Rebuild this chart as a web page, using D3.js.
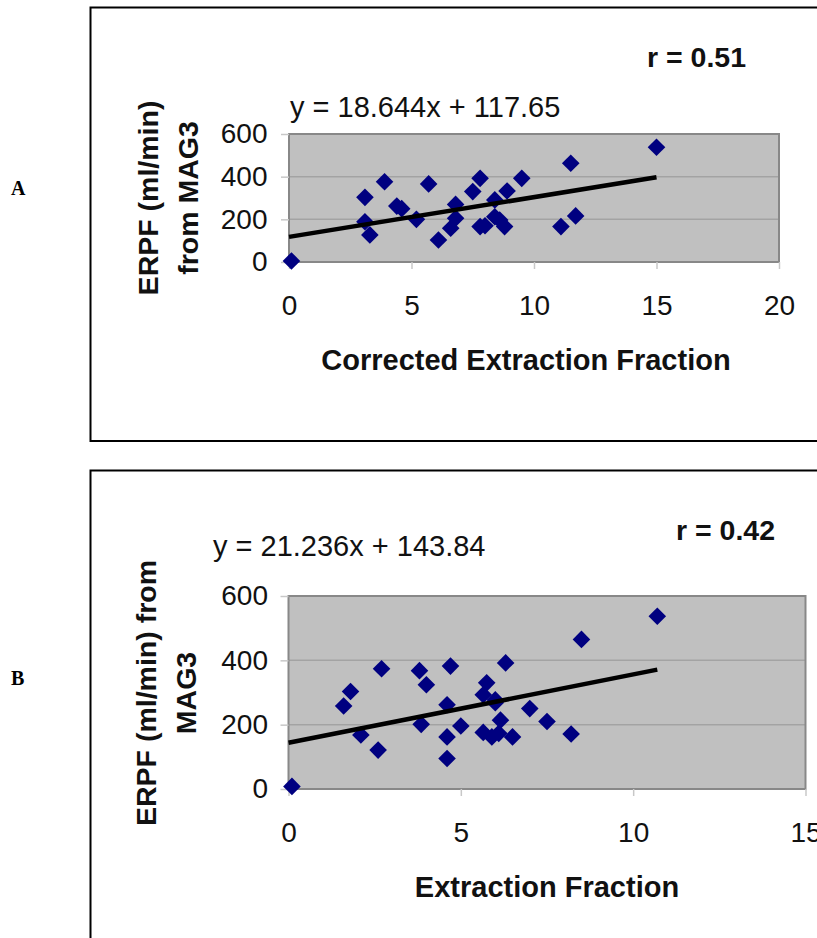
<!DOCTYPE html>
<html>
<head>
<meta charset="utf-8">
<script src="https://cdn.jsdelivr.net/npm/d3@7"></script>
<style>
  html, body { margin: 0; padding: 0; background: #fff; }
  svg { display: block; font-family: "Liberation Sans", Arial, sans-serif; }
</style>
</head>
<body>
<svg id="chart" width="817" height="938"></svg>
<script>
// ---- Panel A data (Corrected Extraction Fraction vs ERPF) ----
const xA = [0.1, 3.1, 3.1, 3.3, 3.9, 4.4, 4.6, 5.2, 5.7, 6.1, 6.6, 6.8, 6.8, 7.5, 7.8, 7.8, 8.0, 8.4, 8.4, 8.6, 8.8, 8.9, 9.5, 11.1, 11.5, 11.7, 15.0];
const yA = [5, 303, 189, 127, 376, 262, 250, 200, 366, 103, 158, 205, 270, 330, 392, 166, 170, 291, 212, 197, 166, 333, 392, 166, 463, 216, 538];
const slopeA = 18.644, interceptA = 117.65;
const xTicksA = [0, 5, 10, 15, 20];
const yTicks = [0, 200, 400, 600];

// ---- Panel B data (Extraction Fraction vs ERPF) ----
const xB = [0.1, 1.6, 1.8, 2.1, 2.6, 2.7, 3.8, 4.0, 3.85, 4.6, 4.6, 4.6, 4.7, 5.0, 5.65, 5.9, 6.15, 6.1, 5.75, 5.65, 6.0, 6.0, 6.3, 6.5, 7.0, 7.5, 8.2, 8.5, 10.7];
const yB = [8, 258, 303, 168, 121, 374, 368, 324, 201, 95, 162, 262, 382, 196, 176, 162, 214, 173, 330, 293, 277, 268, 392, 162, 250, 210, 171, 465, 537];
const slopeB = 21.236, interceptB = 143.84;
const xTicksB = [0, 5, 10, 15];

const svg = d3.select("#chart");

function panel(o) {
  const g = svg.append("g");
  // outer frame
  g.append("rect").attr("x", o.frame[0]).attr("y", o.frame[1])
    .attr("width", o.frame[2]).attr("height", o.frame[3])
    .attr("fill", "#fff").attr("stroke", "#000").attr("stroke-width", 2);
  // panel letter
  g.append("text").attr("x", 11).attr("y", o.letterY)
    .attr("font-family", "'Liberation Serif', 'Times New Roman', serif")
    .attr("font-weight", "bold").attr("font-size", 20).text(o.letter);

  const x = d3.scaleLinear().domain(o.xDomain).range(o.xRange);
  const y = d3.scaleLinear().domain([0, 600]).range(o.yRange);

  // plot area
  g.append("rect").attr("x", o.xRange[0]).attr("y", o.yRange[1])
    .attr("width", o.xRange[1] - o.xRange[0]).attr("height", o.yRange[0] - o.yRange[1])
    .attr("fill", "#c0c0c0");
  // gridlines
  g.append("g").selectAll("line").data(yTicks.filter(v => v > 0 && v < 600)).join("line")
    .attr("x1", o.xRange[0]).attr("x2", o.xRange[1])
    .attr("y1", d => y(d)).attr("y2", d => y(d))
    .attr("stroke", "#a3a3a3").attr("stroke-width", 1.5);
  // border
  g.append("rect").attr("x", o.xRange[0]).attr("y", o.yRange[1])
    .attr("width", o.xRange[1] - o.xRange[0]).attr("height", o.yRange[0] - o.yRange[1])
    .attr("fill", "none").attr("stroke", "#888").attr("stroke-width", 2);

  // axes
  const xAxis = d3.axisBottom(x).tickValues(o.xTicks).tickSize(7).tickPadding(26).tickFormat(d3.format("d"));
  const gx = g.append("g").attr("transform", `translate(0,${o.yRange[0]})`).call(xAxis);
  const yAxis = d3.axisLeft(y).tickValues(yTicks).tickSize(8).tickPadding(o.yPad).tickFormat(d3.format("d"));
  const gy = g.append("g").attr("transform", `translate(${o.xRange[0]},0)`).call(yAxis);
  [gx, gy].forEach(a => {
    a.select(".domain").remove();
    a.selectAll(".tick line").attr("stroke", "#c8c8c8").attr("stroke-width", 1.5);
    a.selectAll(".tick text").attr("font-size", 28).attr("fill", "#111")
      .attr("font-family", "'Liberation Sans', Arial, sans-serif");
  });

  // points
  const sym = d3.symbol().type(d3.symbolSquare).size(155);
  g.append("g").selectAll("path").data(o.xs.map((v, i) => [v, o.ys[i]])).join("path")
    .attr("d", sym)
    .attr("transform", d => `translate(${x(d[0])},${y(d[1])}) rotate(45)`)
    .attr("fill", "#000080");

  // trend line
  const xmax = d3.max(o.xs);
  g.append("line")
    .attr("x1", x(0)).attr("y1", y(o.intercept))
    .attr("x2", x(xmax)).attr("y2", y(o.slope * xmax + o.intercept))
    .attr("stroke", "#000").attr("stroke-width", 4.5);

  // equation
  g.append("text").attr("x", o.eq[0]).attr("y", o.eq[1]).attr("font-size", 29).attr("fill", "#111")
    .text(`y = ${o.slope}x + ${o.intercept}`);
  // r value
  g.append("text").attr("x", o.r[0]).attr("y", o.r[1]).attr("font-size", 28.5).attr("font-weight", "bold")
    .attr("fill", "#111").text(o.rText);

  // x title
  g.append("text").attr("x", o.xTitle[0]).attr("y", o.xTitle[1]).attr("text-anchor", "middle")
    .attr("font-size", 29).attr("font-weight", "bold").attr("fill", "#111").text(o.xLabel);
  // y title (two lines, rotated)
  const yt = g.append("text").attr("transform", `translate(${o.yTitle[0]},${o.yTitle[1]}) rotate(-90)`)
    .attr("text-anchor", "middle").attr("font-size", 28.5).attr("font-weight", "bold").attr("fill", "#111");
  yt.append("tspan").attr("x", 0).attr("y", 0).text(o.yLabel[0]);
  yt.append("tspan").attr("x", 0).attr("y", 40).text(o.yLabel[1]);
}

panel({
  letter: "A", letterY: 195,
  frame: [90.5, 7.5, 760, 433.5],
  xDomain: [0, 20], xRange: [289, 779], yRange: [262, 134],
  xTicks: xTicksA, yPad: 13.5,
  xs: xA, ys: yA, slope: slopeA, intercept: interceptA,
  eq: [290, 117], r: [647, 67], rText: "r = 0.51",
  xTitle: [526, 370], xLabel: "Corrected Extraction Fraction",
  yTitle: [157.5, 198], yLabel: ["ERPF (ml/min)", "from MAG3"]
});

panel({
  letter: "B", letterY: 685,
  frame: [90.5, 470.5, 760, 500],
  xDomain: [0, 15], xRange: [288.5, 805.5], yRange: [789, 596],
  xTicks: xTicksB, yPad: 12.5,
  xs: xB, ys: yB, slope: slopeB, intercept: interceptB,
  eq: [213, 556], r: [676, 540], rText: "r = 0.42",
  xTitle: [547, 897], xLabel: "Extraction Fraction",
  yTitle: [156, 693], yLabel: ["ERPF (ml/min) from", "MAG3"]
});
</script>
</body>
</html>
